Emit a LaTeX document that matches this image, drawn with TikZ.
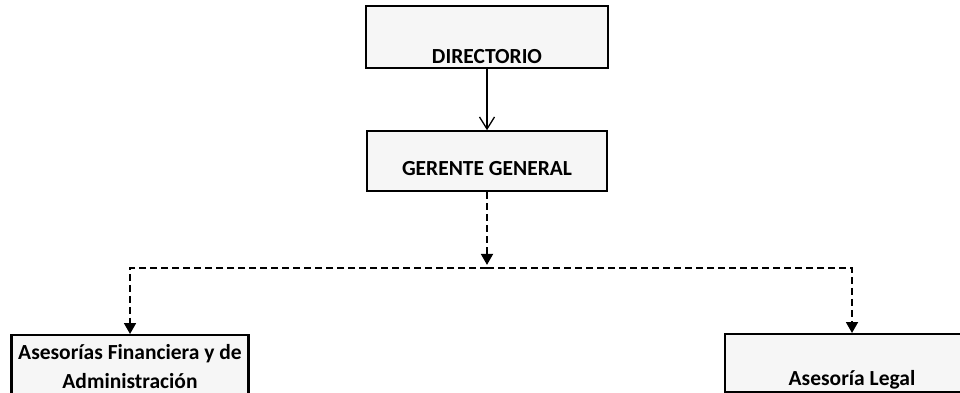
\documentclass[tikz,border=0pt]{standalone}
\usepackage{fontspec}
\setmainfont{Carlito}
\usepackage{xcolor}
\definecolor{Speckle}{HTML}{F6F6F6}
\usetikzlibrary{arrows.meta,positioning}

\begin{document}
\begin{tikzpicture}[
  x=1pt, y=-1pt,
  font=\bfseries\fontsize{21.5}{29}\selectfont,
  box/.style={draw=black, line width=2.2pt, fill=Speckle, inner sep=0pt,
              align=center},
  arr/.style={-{Straight Barb[length=12pt,width=15pt]}, line width=1.3pt},
  dasharr/.style={-{Triangle[length=11pt,width=12pt]}, line width=1.8pt,
                  dash pattern=on 7pt off 4pt}
]
  \useasboundingbox (0,0) rectangle (960,393);
  \clip (0,0) rectangle (960,393);
  \node[box, anchor=north, minimum width=242pt, text height=57pt,
        text depth=5pt] (dir) at (487,5) {DIRECTORIO};
  \node[box, below=61pt of dir, minimum width=240pt, text height=44pt,
        text depth=16pt] (ger) {GERENTE GENERAL};
  \coordinate[below=75.5pt of ger] (split);
  \node[box, anchor=north, minimum width=237pt, text height=53pt,
        text depth=14pt] (fin) at (130,334)
    {Asesorías Financiera y de\\Administración};
  \node[box, anchor=north, minimum width=254pt, text height=51pt,
        text depth=7pt] (leg) at (852,333) {Asesoría Legal};
  \draw[arr] (dir) -- (ger);
  \draw[dasharr] (ger) -- ([yshift=3pt]split);
  \draw[dasharr] (split) -| (fin);
  \draw[dasharr] (split) -| (leg);
\end{tikzpicture}
\end{document}
